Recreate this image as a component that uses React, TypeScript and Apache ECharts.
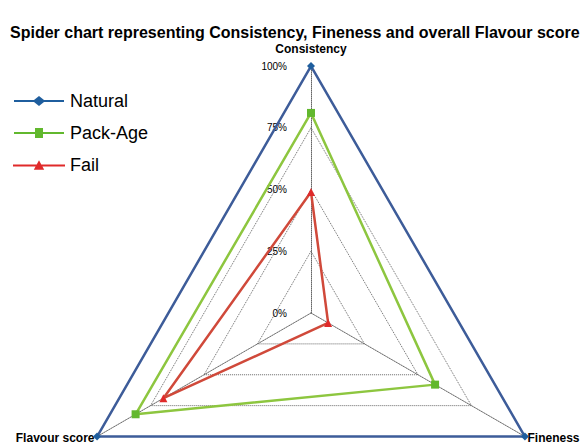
import React, { useEffect, useRef } from "react";
import * as echarts from "echarts";

const titleText = "Spider chart representing Consistency, Fineness and overall Flavour score";
// ECharts lays indicators counter-clockwise from the top
const indicators = ["Consistency", "Flavour score", "Fineness"];
const seriesNames = ["Natural", "Pack-Age", "Fail"];
const naturalValues = [100, 100, 100];
const packAgeValues = [81, 82, 58];
const failValues = [49, 69, 8];
const tickLabels = ["0%", "25%", "50%", "75%", "100%"];

const lineColors = ["#3D5C99", "#8DC63F", "#D0493A"];
const markerColors = ["#1F5E9E", "#62B82E", "#E02A2A"];
const symbols = ["diamond", "rect", "triangle"];
const legendIcons = [
  "path://M0,4H20L25,0L30,4H50V6H30L25,10L20,6H0Z",
  "path://M0,4H21V0H29V4H50V6H29V10H21V6H0Z",
  "path://M0,4H22.8L25,0L27.2,4H50V6H28.3L30,9H20L21.7,6H0Z",
];

export default function App() {
  const ref = useRef<HTMLDivElement>(null);
  useEffect(() => {
    if (!ref.current) return;
    const chart = echarts.init(ref.current, null, { renderer: "svg" });
    const values = [naturalValues, packAgeValues, failValues];
    chart.setOption({
      animation: false,
      backgroundColor: "#ffffff",
      title: {
        text: titleText,
        left: 5,
        top: 19,
        textStyle: { fontFamily: "Liberation Sans", fontWeight: "bold", fontSize: 16, color: "#000" },
      },
      legend: {
        orient: "vertical",
        left: 8,
        top: 87,
        itemWidth: 52,
        itemHeight: 10,
        itemGap: 14,
        textStyle: { fontFamily: "Liberation Sans", fontSize: 18, color: "#000" },
        data: seriesNames.map((n, i) => ({ name: n, icon: legendIcons[i] })),
      },
      radar: {
        center: [311, 313],
        radius: 247,
        shape: "polygon",
        startAngle: 90,
        splitNumber: 4,
        nameGap: 3,
        axisName: {
          fontFamily: "Liberation Sans",
          fontWeight: "bold",
          fontSize: 12,
          color: "#000",
          formatter: (name: string) => (name === indicators[0] ? "{top|" + name + "}" : name),
          rich: {
            top: {
              fontFamily: "Liberation Sans",
              fontWeight: "bold",
              fontSize: 12,
              color: "#000",
              padding: [0, 0, 8, 0],
            },
          },
        },
        indicator: indicators.map((name, i) =>
          i === 0
            ? { name, min: 0, max: 100 }
            : { name, min: 0, max: 100, axisLabel: { show: false } }
        ),
        axisLabel: {
          show: true,
          fontFamily: "Liberation Sans",
          fontSize: 10,
          color: "#000",
          margin: 24,
          formatter: (v: number) => tickLabels[Math.round(v / 25)] ?? "",
        },
        axisLine: { lineStyle: { color: "#666", type: "dotted", width: 1 } },
        splitLine: { lineStyle: { color: "#666", type: "dotted", width: 1 } },
        splitArea: { show: false },
      },
      series: [
        {
          type: "radar",
          data: values.map((v, i) => ({
            name: seriesNames[i],
            value: v,
            symbol: symbols[i],
            symbolSize: 8,
            lineStyle: { color: lineColors[i], width: 2.5 },
            itemStyle: { color: markerColors[i] },
          })),
        },
      ],
    });
    return () => chart.dispose();
  }, []);
  return (
    <div
      ref={ref}
      style={{ position: "absolute", left: 0, top: 0, width: 586, height: 444 }}
    />
  );
}
